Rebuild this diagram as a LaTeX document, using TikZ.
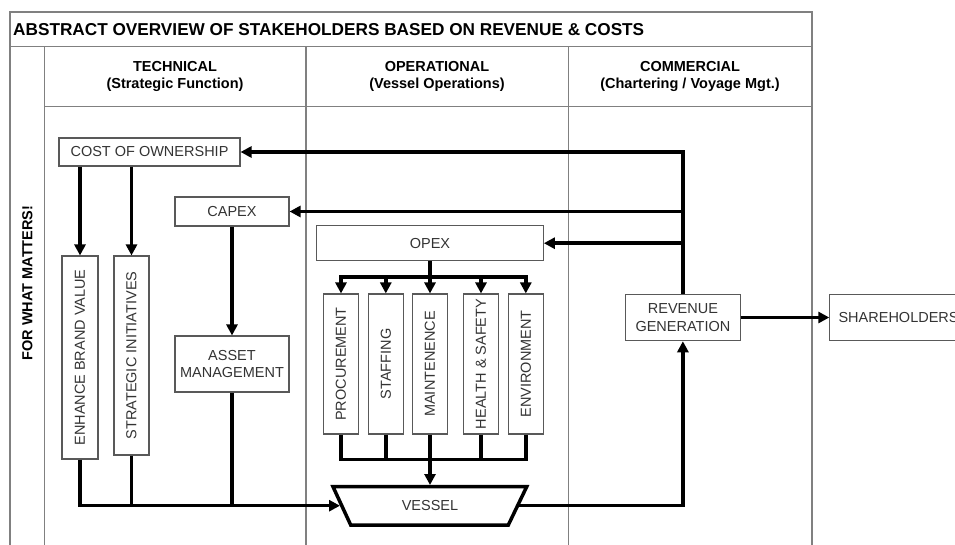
\documentclass[tikz,border=0pt]{standalone}
\usepackage{fontspec}
\setmainfont{Liberation Sans}
\usetikzlibrary{arrows.meta}
\newcommand{\boxfont}{\fontsize{14.5}{17.5}\selectfont}
\newcommand{\hdrfont}{\fontsize{14.5}{17}\selectfont\bfseries}
\newcommand{\ttlfont}{\fontsize{17.2}{20}\selectfont\bfseries}
\tikzset{
 frame/.style={draw=black!50, line width=1.1pt},
 box/.style={draw=black!65, line width=1.1pt, inner sep=0pt, align=center, text=black!80, font=\boxfont},
 vbox/.style={box, rotate=90},
 conn/.style={line width=3.5pt, draw=black},
 arr/.style={conn, -{Triangle[length=11pt,width=11pt]}},
}
\begin{document}
\begin{tikzpicture}[x=1pt,y=-1pt]
\useasboundingbox (0,0) rectangle (955,545);
% frame
\draw[frame] (10,545) -- (10,12) -- (812,12) -- (812,545);
\draw[frame] (10,46.7) -- (812,46.7);
\draw[frame] (44.3,106.7) -- (812,106.7);
\draw[frame] (44.3,46.7) -- (44.3,545);
\draw[frame] (306,46.7) -- (306,545);
\draw[frame] (568.3,46.7) -- (568.3,545);
% titles
\node[anchor=west, font=\ttlfont, inner sep=0pt] (title) at (13,29.5) {ABSTRACT OVERVIEW OF STAKEHOLDERS BASED ON REVENUE \& COSTS};
\node[font=\hdrfont, align=center] (tech) at (175,76.5) {TECHNICAL\\(Strategic Function)};
\node[font=\hdrfont, align=center] (oper) at (437,76.5) {OPERATIONAL\\(Vessel Operations)};
\node[font=\hdrfont, align=center] (comm) at (690,76.5) {COMMERCIAL\\(Chartering / Voyage Mgt.)};
\node[font=\hdrfont, rotate=90] (fwm) at (27.5,283) {FOR WHAT MATTERS!};
% boxes
\node[box, minimum width=181pt, minimum height=28pt] (cost) at (149.5,152) {COST OF OWNERSHIP};
\node[vbox, minimum width=203pt, minimum height=36pt] (enh) at (80,357.5) {ENHANCE BRAND VALUE};
\node[vbox, minimum width=199pt, minimum height=35pt] (strat) at (131.5,355.5) {STRATEGIC INITIATIVES};
\node[box, minimum width=114pt, minimum height=29pt] (capex) at (232,211.5) {CAPEX};
\node[box, minimum width=114pt, minimum height=56pt] (asset) at (232,364) {ASSET\\MANAGEMENT};
\node[box, minimum width=226.6pt, minimum height=35pt] (opex) at (430,243.2) {OPEX};
\node[vbox, minimum width=140pt, minimum height=35.4pt] (proc) at (341,364) {PROCUREMENT};
\node[vbox, minimum width=140pt, minimum height=35pt] (staff) at (385.8,364) {STAFFING};
\node[vbox, minimum width=140pt, minimum height=34.6pt] (maint) at (430,364) {MAINTENENCE};
\node[vbox, minimum width=140pt, minimum height=35.4pt] (hs) at (481,364) {HEALTH \& SAFETY};
\node[vbox, minimum width=140pt, minimum height=35pt] (env) at (525.8,364) {ENVIRONMENT};
\node[box, minimum width=114.3pt, minimum height=46.4pt] (rev) at (682.9,317.5) {REVENUE\\GENERATION};
\node[box, anchor=west, inner xsep=8.7pt, minimum height=46.4pt] (share) at (829.3,317.5) {SHAREHOLDERS};
% vessel
\coordinate (vtl) at (333,486.7);
\coordinate (vtr) at (526.7,486.7);
\coordinate (vbr) at (508.3,525);
\coordinate (vbl) at (350.7,525);
\draw[line width=3.5pt, line join=miter] (vtl) -- (vtr) -- (vbr) -- (vbl) -- cycle;
\node[font=\boxfont, text=black!80] (vessel) at (430,506) {VESSEL};
\coordinate (vl) at (340,505.7);
\coordinate (vr) at (517.6,505.7);
\coordinate (vtop) at (430,485);
% connectors (rotated boxes: east = visual top, west = visual bottom)
\draw[arr] (rev.north) |- (cost.east);
\draw[arr] (rev.north |- capex.east) -- (capex.east);
\draw[arr] (rev.north |- opex.east) -- (opex.east);
\draw[arr] (cost.south -| enh.east) -- (enh.east);
\draw[arr] (cost.south -| strat.east) -- (strat.east);
\draw[arr] (capex.south) -- (asset.north);
\draw[arr] (enh.west) |- (vl);
\draw[conn] (strat.west) -- (strat.west |- vl);
\draw[conn] (asset.south) -- (asset.south |- vl);
\coordinate (tb) at (430,277);
\coordinate (bb) at (430,459.3);
\draw[conn] (opex.south) -- (tb);
\draw[arr] (tb) -| (proc.east);
\draw[arr] (tb) -| (env.east);
\draw[arr] (tb -| staff.east) -- (staff.east);
\draw[arr] (tb) -- (maint.east);
\draw[arr] (tb -| hs.east) -- (hs.east);
\draw[conn] (proc.west) |- (bb);
\draw[conn] (env.west) |- (bb);
\draw[conn] (staff.west) -- (staff.west |- bb);
\draw[conn] (hs.west) -- (hs.west |- bb);
\draw[arr] (maint.west) -- (vtop);
\draw[arr] (vr) -| (rev.south);
\draw[arr] (rev.east) -- (share.west);
\end{tikzpicture}
\end{document}
